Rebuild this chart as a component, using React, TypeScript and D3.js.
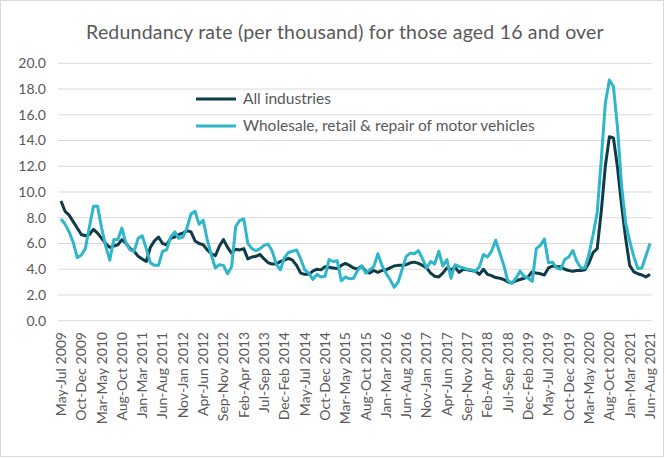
import React from 'react';
import * as d3 from 'd3';

// rolling 3-month periods, May-Jul 2009 .. Jun-Aug 2021
const monthNames = ['Jan', 'Feb', 'Mar', 'Apr', 'May', 'Jun', 'Jul', 'Aug', 'Sep', 'Oct', 'Nov', 'Dec'];
const periods: string[] = [];
for (let k = 0; k < 146; k++) {
  const m = 4 + k; // May 2009 = month index 4
  const endM = m + 2;
  periods.push(`${monthNames[m % 12]}-${monthNames[endM % 12]} ${2009 + Math.floor(endM / 12)}`);
}

const tickLabels = [
  'May-Jul 2009', 'Oct-Dec 2009', 'Mar-May 2010', 'Aug-Oct 2010', 'Jan-Mar 2011', 'Jun-Aug 2011',
  'Nov-Jan 2012', 'Apr-Jun 2012', 'Sep-Nov 2012', 'Feb-Apr 2013', 'Jul-Sep 2013', 'Dec-Feb 2014',
  'May-Jul 2014', 'Oct-Dec 2014', 'Mar-May 2015', 'Aug-Oct 2015', 'Jan-Mar 2016', 'Jun-Aug 2016',
  'Nov-Jan 2017', 'Apr-Jun 2017', 'Sep-Nov 2017', 'Feb-Apr 2018', 'Jul-Sep 2018', 'Dec-Feb 2019',
  'May-Jul 2019', 'Oct-Dec 2019', 'Mar-May 2020', 'Aug-Oct 2020', 'Jan-Mar 2021', 'Jun-Aug 2021',
];

const yTicks = [0, 2, 4, 6, 8, 10, 12, 14, 16, 18, 20];

const allIndustries = [
  9.3, 8.5, 8.2, 7.7, 7.2, 6.7, 6.6, 6.7, 7.1, 6.8,
  6.4, 6.0, 5.7, 5.8, 5.9, 6.3, 6.0, 5.6, 5.4, 5.0,
  4.8, 4.6, 5.7, 6.2, 6.5, 6.0, 5.9, 6.4, 6.5, 6.7,
  6.8, 7.0, 6.9, 6.2, 6.0, 5.9, 5.5, 5.2, 5.05, 5.8,
  6.3, 5.7, 5.25, 5.55, 5.5, 5.6, 4.8, 4.95, 5.0, 5.15,
  4.8, 4.5, 4.4, 4.4, 4.6, 4.7, 4.85, 4.7, 4.3, 3.7,
  3.6, 3.6, 3.85, 4.0, 3.95, 4.2, 4.15, 4.1, 4.05, 4.3,
  4.45, 4.3, 4.1, 4.0, 4.25, 3.85, 3.7, 3.9, 3.75, 3.9,
  3.95, 4.1, 4.25, 4.3, 4.3, 4.35, 4.5, 4.55, 4.45, 4.3,
  4.1, 3.7, 3.45, 3.4, 3.7, 4.1, 3.95, 4.15, 3.75, 4.0,
  3.95, 3.9, 3.85, 3.6, 4.0, 3.6, 3.5, 3.35, 3.3, 3.2,
  3.0, 2.95, 3.1, 3.2, 3.3, 3.4, 3.8, 3.7, 3.65, 3.55,
  4.1, 4.25, 4.2, 4.2, 4.0, 3.9, 3.85, 3.9, 3.9, 3.95,
  4.5, 5.3, 5.6, 8.5, 12.0, 14.3, 14.2, 11.9, 9.0, 6.4,
  4.3, 3.8, 3.65, 3.55, 3.4, 3.6,
];

const wholesaleRetail = [
  7.9, 7.5, 6.9, 6.1, 4.9, 5.1, 5.6, 7.3, 8.9, 8.9,
  7.2, 5.8, 4.7, 6.3, 6.3, 7.2, 6.0, 5.5, 5.4, 6.4,
  6.6, 5.6, 4.5, 4.3, 4.3, 5.4, 5.5, 6.5, 6.9, 6.4,
  6.5, 7.2, 8.3, 8.5, 7.5, 7.8, 6.3, 5.1, 4.1, 4.35,
  4.3, 3.65, 4.2, 7.3, 7.8, 7.9, 6.0, 5.6, 5.45, 5.6,
  5.85, 5.95, 5.4, 4.4, 3.95, 4.9, 5.3, 5.4, 5.5, 4.8,
  3.95, 3.7, 3.2, 3.6, 3.4, 3.45, 4.75, 4.6, 4.65, 3.1,
  3.4, 3.25, 3.3, 3.9, 4.25, 3.7, 3.95, 4.2, 5.2, 4.3,
  3.7, 3.2, 2.6, 3.0, 4.0, 5.0, 5.25, 5.2, 5.45, 4.8,
  4.1, 4.6, 4.4, 5.4, 4.25, 4.75, 3.3, 4.35, 4.2, 4.1,
  4.0, 3.95, 3.85, 4.2, 5.15, 4.95, 5.4, 6.25, 5.3, 4.3,
  3.1, 2.9, 3.3, 3.85, 3.45, 3.3, 3.05, 5.6, 5.85, 6.35,
  4.5, 4.55, 4.1, 4.0, 4.75, 4.95, 5.45, 4.6, 4.1, 4.1,
  5.2, 6.7, 8.4, 12.5, 16.9, 18.7, 18.2, 15.0, 10.5, 7.6,
  6.2, 5.0, 4.05, 4.1, 5.05, 6.0,
];

const seriesNames = ['All industries', 'Wholesale, retail & repair of motor vehicles'];
const seriesColors = ['#0d3c48', '#2fb6cb'];

const W = 665;
const H = 458;
const font = 'Lato, "Open Sans", sans-serif';
const textColor = '#595959';

export default function App() {
  const x = d3.scalePoint<string>().domain(periods).range([61, 650]);
  const y = d3.scaleLinear().domain([0, 20]).range([320.7, 63.3]);

  const line = d3
    .line<number>()
    .x((_, i) => x(periods[i]) as number)
    .y(d => y(d));

  const series = [allIndustries, wholesaleRetail];

  return (
    <svg width={W} height={H} style={{ position: 'absolute', left: 0, top: 0, background: '#fff' }}>
      <rect x={0.5} y={0.5} width={W - 2} height={H - 2} fill="#fff" stroke="#d9d9d9" />
      <text x={345} y={39} textAnchor="middle" fontFamily={font} fontSize={19.5} letterSpacing={0.2} fill={textColor}>
        Redundancy rate (per thousand)  for those aged 16 and over
      </text>

      {yTicks.map(t => (
        <g key={t}>
          <line x1={58} x2={652} y1={y(t)} y2={y(t)} stroke="#d9d9d9" strokeWidth={1} />
          <text x={46} y={y(t)} dy="0.35em" textAnchor="end" fontFamily={font} fontSize={14} fill={textColor}>
            {t.toFixed(1)}
          </text>
        </g>
      ))}

      {tickLabels.map(lab => (
        <text
          key={lab}
          transform={`translate(${x(lab)},332) rotate(-90)`}
          dy="0.35em"
          textAnchor="end"
          fontFamily={font}
          fontSize={14}
          fill={textColor}
        >
          {lab}
        </text>
      ))}

      {series.map((s, i) => (
        <path key={i} d={line(s) || ''} fill="none" stroke={seriesColors[i]} strokeWidth={3} strokeLinejoin="round" />
      ))}

      {seriesNames.map((name, i) => (
        <g key={name} transform={`translate(196,${99 + i * 27})`}>
          <line x1={0} x2={40} y1={0} y2={0} stroke={seriesColors[i]} strokeWidth={3} />
          <text x={47} y={0} dy="0.35em" fontFamily={font} fontSize={15.5} fill={textColor}>
            {name}
          </text>
        </g>
      ))}
    </svg>
  );
}
